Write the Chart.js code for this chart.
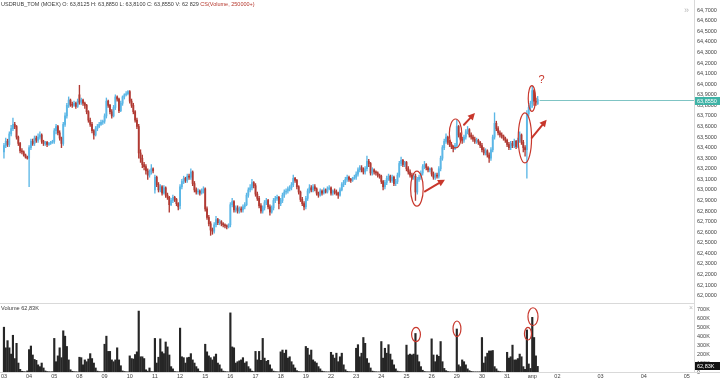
<!DOCTYPE html>
<html>
<head>
<meta charset="utf-8">
<script src="https://cdn.jsdelivr.net/npm/chart.js@4/dist/chart.umd.min.js"></script>
<style>
  html, body { margin: 0; padding: 0; background: #fff; }
  #wrap { position: relative; width: 720px; height: 380px; overflow: hidden; font-family: "Liberation Sans", Arial, sans-serif; }
  #priceCanvas { position: absolute; left: 0; top: 0; }
  #volCanvas { position: absolute; left: 0; top: 304px; }
  .line { position: absolute; background: #d9d9d9; }
  .txt { position: absolute; white-space: nowrap; color: #3a3a3a; }
  #header { left: 1px; top: 1px; font-size: 5.5px; }
  #header .cs { color: #b5372c; }
  #volLabel { left: 1px; top: 305px; font-size: 5.6px; }
  #more { left: 684px; top: 5px; font-size: 9px; color: #b8b8b8; }
  #close { left: 689px; top: 304px; font-size: 7px; color: #b8b8b8; }
</style>
</head>
<body>
<div id="wrap">
  <canvas id="priceCanvas" width="720" height="303"></canvas>
  <canvas id="volCanvas" width="720" height="76"></canvas>
  <div class="line" style="left:0;top:303px;width:694px;height:1px"></div>
  <div class="line" style="left:694px;top:0;width:1px;height:372px"></div>
  <div class="line" style="left:0;top:372px;width:720px;height:1px"></div>
  <div id="header" class="txt">USDRUB_TOM (MOEX) O: 63,8125 H: 63,8850 L: 63,8100 C: 63,8550 V: 62 829 <span class="cs">CS(Volume, 250000+)</span></div>
  <div id="volLabel" class="txt">Volume 62,83K</div>
  <div id="more" class="txt">»</div>
  <div id="close" class="txt">×</div>
</div>
<script>
// --- Axis labels (hourly bars, 14 per trading session) ---
const sessionDays = ["03","04","05","08","09","10","11","12","15","16","17","18","19","22","23","24","25","26","29","30","31","апр"];
const futureDays = ["02","03","04","05"];
const BARS_PER_SESSION = 14;
const BARS_PER_FUTURE_DAY = 24;

// --- OHLC, one row per session ---
const opens = [
  63.36,63.42,63.46,63.43,63.53,63.58,63.62,63.60,63.50,63.44,63.37,63.36,63.33,63.31,
  63.30,63.40,63.46,63.44,63.49,63.47,63.50,63.52,63.46,63.44,63.45,63.43,63.44,63.45,
  63.46,63.56,63.60,63.54,63.49,63.44,63.62,63.70,63.80,63.85,63.81,63.80,63.82,63.79,
  63.90,63.83,63.85,63.82,63.80,63.74,63.66,63.62,63.56,63.52,63.58,63.60,63.62,63.64,
  63.65,63.70,63.84,63.80,63.74,63.70,63.78,63.88,63.86,63.75,63.82,63.88,63.90,63.91,
  63.93,63.84,63.80,63.74,63.66,63.60,63.35,63.30,63.24,63.22,63.18,63.14,63.17,63.20,
  63.00,63.12,63.05,63.00,63.03,62.97,63.02,62.95,62.93,62.86,62.90,62.93,62.91,62.87,
  62.85,63.03,63.08,63.11,63.09,63.13,63.12,63.17,63.06,63.00,62.98,62.99,62.97,62.99,
  63.01,62.82,62.74,62.68,62.62,62.61,62.67,62.72,62.69,62.70,62.68,62.67,62.66,62.65,
  62.67,62.86,62.89,62.81,62.83,62.80,62.82,62.81,62.84,62.86,62.95,63.00,63.02,63.07,
  63.04,62.96,62.92,62.85,62.80,62.83,62.88,62.90,62.84,62.79,62.83,62.90,62.92,62.93,
  62.87,62.90,62.95,62.98,62.99,63.01,63.02,63.05,63.11,63.09,63.03,62.98,62.91,62.87,
  62.84,62.92,62.99,63.02,63.00,63.03,63.01,62.97,62.95,62.99,62.97,63.00,62.98,63.01,
  63.02,62.97,62.99,62.98,62.97,62.95,63.00,63.05,63.07,63.10,63.12,63.10,63.09,63.11,
  63.12,63.15,63.19,63.21,63.19,63.17,63.20,63.27,63.25,63.16,63.19,63.17,63.16,63.14,
  63.13,63.08,63.03,63.07,63.11,63.13,63.09,63.12,63.06,63.08,63.14,63.25,63.28,63.24,
  63.26,63.20,63.17,63.14,63.12,63.13,62.98,63.10,63.12,63.16,63.22,63.24,63.21,63.19,
  63.20,63.15,63.12,63.14,63.13,63.20,63.30,63.40,63.46,63.50,63.45,63.43,63.41,63.39,
  63.42,63.60,63.52,63.48,63.47,63.50,63.55,63.57,63.52,63.50,63.48,63.46,63.47,63.45,
  63.42,63.38,63.35,63.37,63.33,63.30,63.38,63.50,63.63,63.58,63.54,63.52,63.51,63.49,
  63.47,63.43,63.40,63.44,63.42,63.46,63.41,63.47,63.52,63.45,63.40,63.38,63.72,63.78,
  63.82,63.94,63.84,63.8125
];
const highs = [
  63.44,63.49,63.48,63.55,63.61,63.68,63.64,63.61,63.51,63.45,63.39,63.37,63.34,63.32,
  63.42,63.48,63.48,63.51,63.51,63.53,63.55,63.53,63.47,63.46,63.46,63.45,63.46,63.47,
  63.58,63.62,63.61,63.56,63.50,63.64,63.73,63.82,63.88,63.86,63.83,63.84,63.83,63.86,
  63.99,63.87,63.86,63.83,63.81,63.75,63.68,63.64,63.57,63.60,63.62,63.64,63.66,63.66,
  63.72,63.87,63.85,63.81,63.76,63.80,63.90,63.89,63.87,63.84,63.89,63.91,63.93,63.94,
  63.94,63.86,63.82,63.75,63.68,63.62,63.38,63.33,63.26,63.24,63.20,63.19,63.24,63.21,
  63.14,63.13,63.07,63.05,63.04,63.04,63.03,62.97,62.94,62.92,62.95,62.94,62.92,62.88,
  63.05,63.10,63.13,63.12,63.15,63.15,63.20,63.18,63.08,63.02,63.01,63.00,63.01,63.03,
  63.02,62.84,62.76,62.70,62.64,62.69,62.75,62.73,62.72,62.71,62.69,62.68,62.67,62.68,
  62.88,62.92,62.90,62.85,62.85,62.84,62.84,62.86,62.88,62.97,63.02,63.05,63.10,63.08,
  63.06,62.98,62.94,62.87,62.85,62.90,62.92,62.91,62.86,62.85,62.92,62.94,62.95,62.94,
  62.92,62.97,63.00,63.01,63.03,63.04,63.07,63.14,63.12,63.10,63.04,62.99,62.93,62.89,
  62.94,63.01,63.05,63.04,63.05,63.05,63.02,62.98,63.01,63.00,63.02,63.01,63.03,63.04,
  63.03,63.00,63.01,63.00,62.98,63.02,63.07,63.09,63.12,63.14,63.13,63.11,63.12,63.14,
  63.17,63.21,63.23,63.23,63.21,63.22,63.32,63.29,63.26,63.21,63.20,63.18,63.17,63.15,
  63.14,63.09,63.09,63.13,63.15,63.14,63.14,63.13,63.10,63.16,63.27,63.31,63.29,63.27,
  63.27,63.22,63.19,63.16,63.15,63.15,63.12,63.14,63.18,63.24,63.27,63.25,63.22,63.21,
  63.21,63.17,63.16,63.16,63.22,63.32,63.42,63.48,63.53,63.51,63.47,63.45,63.42,63.44,
  63.66,63.61,63.54,63.50,63.52,63.57,63.60,63.58,63.54,63.52,63.50,63.49,63.48,63.46,
  63.44,63.40,63.39,63.38,63.35,63.40,63.52,63.73,63.65,63.60,63.56,63.54,63.52,63.50,
  63.48,63.45,63.46,63.46,63.48,63.47,63.49,63.55,63.53,63.47,63.42,63.75,63.80,63.84,
  63.98,63.95,63.87,63.885
];
const lows = [
  63.30,63.40,63.41,63.41,63.51,63.56,63.58,63.48,63.42,63.35,63.34,63.32,63.30,63.29,
  63.03,63.38,63.42,63.42,63.45,63.45,63.48,63.44,63.42,63.42,63.41,63.42,63.43,63.44,
  63.44,63.53,63.52,63.47,63.40,63.42,63.60,63.68,63.78,63.79,63.78,63.79,63.77,63.78,
  63.81,63.81,63.80,63.77,63.72,63.64,63.60,63.54,63.48,63.51,63.56,63.59,63.61,63.62,
  63.63,63.68,63.78,63.72,63.68,63.69,63.76,63.84,63.73,63.74,63.80,63.86,63.89,63.90,
  63.82,63.78,63.72,63.64,63.58,63.30,63.26,63.21,63.19,63.15,63.10,63.12,63.15,63.16,
  62.97,63.03,62.98,62.98,62.95,62.96,62.93,62.91,62.79,62.85,62.88,62.89,62.85,62.81,
  62.82,63.01,63.06,63.07,63.07,63.10,63.10,63.04,62.98,62.96,62.96,62.95,62.96,62.97,
  62.80,62.72,62.66,62.57,62.58,62.59,62.65,62.67,62.67,62.66,62.65,62.64,62.63,62.64,
  62.65,62.84,62.79,62.79,62.78,62.78,62.79,62.79,62.82,62.85,62.93,62.98,63.00,63.02,
  62.94,62.90,62.83,62.78,62.78,62.81,62.86,62.82,62.76,62.78,62.81,62.88,62.90,62.82,
  62.85,62.88,62.93,62.96,62.97,62.99,63.00,63.03,63.07,63.01,62.96,62.89,62.85,62.81,
  62.82,62.90,62.97,62.98,62.98,62.99,62.95,62.93,62.94,62.95,62.96,62.97,62.97,63.00,
  62.95,62.95,62.96,62.95,62.92,62.94,62.99,63.03,63.05,63.08,63.08,63.07,63.08,63.10,
  63.10,63.13,63.17,63.17,63.15,63.15,63.18,63.22,63.14,63.14,63.15,63.14,63.12,63.11,
  63.06,63.00,63.01,63.05,63.09,63.07,63.07,63.04,63.04,63.06,63.12,63.23,63.22,63.22,
  63.18,63.15,63.12,63.10,63.10,62.90,62.96,63.08,63.10,63.14,63.20,63.19,63.17,63.17,
  63.13,63.10,63.10,63.11,63.11,63.18,63.28,63.38,63.44,63.43,63.41,63.39,63.36,63.38,
  63.40,63.50,63.46,63.44,63.45,63.48,63.53,63.50,63.48,63.46,63.44,63.44,63.43,63.40,
  63.36,63.33,63.33,63.31,63.26,63.28,63.36,63.48,63.56,63.52,63.50,63.49,63.47,63.45,
  63.41,63.38,63.38,63.40,63.40,63.39,63.40,63.45,63.43,63.36,63.32,63.11,63.70,63.76,
  63.78,63.80,63.80,63.81
];
const closes = [
  63.42,63.46,63.43,63.53,63.58,63.62,63.60,63.50,63.44,63.37,63.36,63.33,63.31,63.30,
  63.40,63.46,63.44,63.49,63.47,63.50,63.52,63.46,63.44,63.45,63.43,63.44,63.45,63.46,
  63.56,63.60,63.54,63.49,63.44,63.62,63.70,63.80,63.85,63.81,63.80,63.82,63.79,63.84,
  63.83,63.85,63.82,63.80,63.74,63.66,63.62,63.56,63.52,63.58,63.60,63.62,63.64,63.65,
  63.70,63.84,63.80,63.74,63.70,63.78,63.88,63.86,63.75,63.82,63.88,63.90,63.91,63.93,
  63.84,63.80,63.74,63.66,63.60,63.35,63.30,63.24,63.22,63.18,63.14,63.17,63.20,63.18,
  63.12,63.05,63.00,63.03,62.97,63.02,62.95,62.93,62.86,62.90,62.93,62.91,62.87,62.84,
  63.03,63.08,63.11,63.09,63.13,63.12,63.17,63.06,63.00,62.98,62.99,62.97,62.99,63.01,
  62.82,62.74,62.68,62.62,62.61,62.67,62.72,62.69,62.70,62.68,62.67,62.66,62.65,62.67,
  62.86,62.89,62.81,62.83,62.80,62.82,62.81,62.84,62.86,62.95,63.00,63.02,63.07,63.04,
  62.96,62.92,62.85,62.80,62.83,62.88,62.90,62.84,62.79,62.83,62.90,62.92,62.93,62.87,
  62.90,62.95,62.98,62.99,63.01,63.02,63.05,63.11,63.09,63.03,62.98,62.91,62.87,62.84,
  62.92,62.99,63.02,63.00,63.03,63.01,62.97,62.95,62.99,62.97,63.00,62.98,63.01,63.02,
  62.97,62.99,62.98,62.97,62.95,63.00,63.05,63.07,63.10,63.12,63.10,63.09,63.11,63.12,
  63.15,63.19,63.21,63.19,63.17,63.20,63.27,63.25,63.16,63.19,63.17,63.16,63.14,63.13,
  63.08,63.03,63.07,63.11,63.13,63.09,63.12,63.06,63.08,63.14,63.25,63.28,63.24,63.26,
  63.20,63.17,63.14,63.12,63.13,62.98,63.10,63.12,63.16,63.22,63.24,63.21,63.19,63.20,
  63.15,63.12,63.14,63.13,63.20,63.30,63.40,63.46,63.50,63.45,63.43,63.41,63.39,63.42,
  63.60,63.52,63.48,63.47,63.50,63.55,63.57,63.52,63.50,63.48,63.46,63.47,63.45,63.42,
  63.38,63.35,63.37,63.33,63.30,63.38,63.50,63.63,63.58,63.54,63.52,63.51,63.49,63.47,
  63.43,63.40,63.44,63.42,63.46,63.41,63.47,63.52,63.45,63.40,63.38,63.72,63.78,63.82,
  63.94,63.84,63.83,63.855
];
// volume, thousands
const volumes = [
  500,270,350,270,200,410,150,320,100,30,8,5,3,12,
  250,290,190,140,130,80,60,100,45,12,5,3,2,4,
  375,115,180,270,160,460,400,285,135,25,8,4,3,2,
  165,160,80,135,115,145,205,150,100,45,10,5,3,4,
  310,400,230,230,135,115,135,270,135,70,12,6,3,2,
  180,150,145,195,225,680,170,170,150,25,10,45,5,3,
  375,100,165,370,225,205,335,280,190,60,35,6,3,2,
  490,170,160,100,160,165,205,135,100,60,35,8,4,2,
  310,225,180,160,135,170,200,100,80,35,10,5,3,2,
  660,280,270,100,115,125,135,160,100,115,60,35,10,5,
  230,135,230,130,375,155,120,130,80,35,10,5,3,2,
  225,245,210,245,155,170,115,80,45,15,6,3,2,2,
  285,265,190,245,135,115,100,60,35,10,5,3,2,2,
  220,190,155,210,115,170,210,80,25,8,4,3,2,2,
  265,305,170,210,385,320,150,100,45,10,5,3,2,2,
  340,155,265,210,305,200,135,80,35,10,5,3,2,2,
  300,190,200,190,200,430,190,115,60,20,6,3,2,2,
  370,190,115,190,175,340,115,40,15,6,3,2,2,2,
  480,80,60,135,115,80,35,15,6,3,2,2,2,2,
  385,100,170,210,235,235,240,60,35,10,5,3,2,2,
  220,155,170,300,135,135,150,200,170,60,30,470,90,40,
  610,385,180,62.829
];

// --- Hand-drawn marks on the chart (in bar index / price / volume units) ---
const priceCircles = [
  { i: 229.8, v: 63.012, ri: 3.5, rv: 0.166 },
  { i: 251.3, v: 63.534, ri: 3.45, rv: 0.137 },
  { i: 289.9, v: 63.492, ri: 3.7, rv: 0.237 },
  { i: 293.8, v: 63.865, ri: 2.05, rv: 0.121 }
];
const priceArrows = [
  { i0: 234.3, v0: 62.986, i1: 245.4, v1: 63.097 },
  { i0: 256.0, v0: 63.617, i1: 262.1, v1: 63.728 },
  { i0: 293.7, v0: 63.492, i1: 302.0, v1: 63.665 }
];
const questionMark = { i: 299.1, v: 64.038 };
const volumeCircles = [
  { i: 229.3, v: 418, ri: 2.45, rv: 80 },
  { i: 252.1, v: 482, ri: 2.2, rv: 87 },
  { i: 291.6, v: 427, ri: 1.95, rv: 70 },
  { i: 294.4, v: 617, ri: 2.8, rv: 100 }
];

const UP = "#5cb7e6";
const DOWN = "#b13a33";
const MARK = "#c8372c";
const AXIS_TEXT = "#444";
const X_MIN = -2.2, X_MAX = 384;
const AXIS_W = 26;

const tickPos = [];
const tickText = [];
sessionDays.forEach((d, k) => { tickPos.push(k * BARS_PER_SESSION); tickText.push(d); });
futureDays.forEach((d, k) => {
  tickPos.push(sessionDays.length * BARS_PER_SESSION + k * BARS_PER_FUTURE_DAY);
  tickText.push(d);
});

const idx = closes.map((_, i) => i);
const candleColor = idx.map(i => closes[i] >= opens[i] ? UP : DOWN);
const lastIdx = closes.length - 1;

function fmtPrice(v) { return v.toFixed(4).replace(".", ","); }

// no label padding: keep the value scale running edge to edge
function fitRightAxis(s) {
  s.width = AXIS_W;
  s.paddingTop = 0;
  s.paddingBottom = 0;
}

function ellipse(ctx, xs, ys, m) {
  const cx = xs.getPixelForValue(m.i), cy = ys.getPixelForValue(m.v);
  const rx = Math.abs(xs.getPixelForValue(m.i + m.ri) - cx);
  const ry = Math.abs(ys.getPixelForValue(m.v + m.rv) - cy);
  ctx.beginPath();
  ctx.ellipse(cx, cy, rx, ry, 0, 0, Math.PI * 2);
  ctx.stroke();
}

function arrow(ctx, x0, y0, x1, y1) {
  const a = Math.atan2(y1 - y0, x1 - x0), hl = 7, hw = 3.6;
  const bx = x1 - hl * Math.cos(a), by = y1 - hl * Math.sin(a);
  ctx.beginPath(); ctx.moveTo(x0, y0); ctx.lineTo(bx, by); ctx.stroke();
  ctx.beginPath();
  ctx.moveTo(x1, y1);
  ctx.lineTo(bx + hw * Math.sin(a), by - hw * Math.cos(a));
  ctx.lineTo(bx - hw * Math.sin(a), by + hw * Math.cos(a));
  ctx.closePath(); ctx.fill();
}

function axisBox(ctx, area, yPix, text, bg, fg) {
  ctx.fillStyle = bg;
  ctx.fillRect(area.right, Math.round(yPix) - 4, AXIS_W, 8);
  ctx.fillStyle = fg;
  ctx.font = "5.5px 'Liberation Sans', Arial, sans-serif";
  ctx.textBaseline = "middle";
  ctx.textAlign = "left";
  ctx.fillText(text, area.right + 3, Math.round(yPix) + 0.5);
}

// --- Price pane overlay: last price line, label, marks ---
const priceOverlay = {
  id: "priceOverlay",
  afterDraw(chart) {
    const { ctx, chartArea, scales: { x, y } } = chart;
    const py = Math.round(y.getPixelForValue(closes[lastIdx])) + 0.5;
    ctx.save();
    ctx.strokeStyle = "#7fc4c4";
    ctx.lineWidth = 1;
    ctx.beginPath();
    ctx.moveTo(x.getPixelForValue(lastIdx) + 2, py);
    ctx.lineTo(chartArea.right, py);
    ctx.stroke();
    axisBox(ctx, chartArea, py, fmtPrice(closes[lastIdx]), "#3fb3a6", "#fff");

    ctx.strokeStyle = MARK;
    ctx.fillStyle = MARK;
    ctx.lineWidth = 1.2;
    priceCircles.forEach(m => ellipse(ctx, x, y, m));
    ctx.lineWidth = 2;
    ctx.lineCap = "round";
    priceArrows.forEach(a => arrow(ctx,
      x.getPixelForValue(a.i0), y.getPixelForValue(a.v0),
      x.getPixelForValue(a.i1), y.getPixelForValue(a.v1)));
    ctx.font = "11px 'Liberation Sans', Arial, sans-serif";
    ctx.textAlign = "center";
    ctx.textBaseline = "middle";
    ctx.fillText("?", x.getPixelForValue(questionMark.i), y.getPixelForValue(questionMark.v));
    ctx.restore();
  }
};

// --- Volume pane overlay ---
const volumeOverlay = {
  id: "volumeOverlay",
  afterDraw(chart) {
    const { ctx, chartArea, scales: { x, y } } = chart;
    ctx.save();
    ctx.strokeStyle = MARK;
    ctx.lineWidth = 1.2;
    volumeCircles.forEach(m => ellipse(ctx, x, y, m));
    const vy = y.getPixelForValue(volumes[lastIdx]);
    axisBox(ctx, chartArea, vy, (volumes[lastIdx]).toFixed(2).replace(".", ",") + "K", "#111", "#fff");
    ctx.restore();
  }
};

const baseOpts = {
  responsive: false,
  animation: false,
  events: [],
  layout: { padding: 0 },
  plugins: { legend: { display: false }, tooltip: { enabled: false } }
};

const axisFont = { size: 5.5, family: "'Liberation Sans', Arial, sans-serif" };

new Chart(document.getElementById("priceCanvas"), {
  type: "bar",
  data: {
    datasets: [
      {
        data: idx.map(i => ({ x: i, y: [lows[i], highs[i]] })),
        backgroundColor: candleColor,
        barThickness: 0.7,
        grouped: false
      },
      {
        data: idx.map(i => ({ x: i, y: [opens[i], closes[i]] })),
        backgroundColor: candleColor,
        barThickness: 1.2,
        minBarLength: 1,
        grouped: false
      }
    ]
  },
  options: {
    ...baseOpts,
    scales: {
      x: { type: "linear", min: X_MIN, max: X_MAX, offset: false, display: false },
      y: {
        position: "right",
        min: 61.93,
        max: 64.797,
        afterFit: fitRightAxis,
        grid: { display: false, drawTicks: false },
        border: { display: false },
        ticks: {
          stepSize: 0.1,
          includeBounds: false,
          autoSkip: false,
          maxTicksLimit: 100,
          padding: 3,
          color: AXIS_TEXT,
          font: axisFont,
          callback: v => fmtPrice(v)
        }
      }
    }
  },
  plugins: [priceOverlay]
});

new Chart(document.getElementById("volCanvas"), {
  type: "bar",
  data: {
    datasets: [{
      data: idx.map(i => ({ x: i, y: volumes[i] })),
      backgroundColor: "#262626",
      barThickness: 1.5,
      grouped: false
    }]
  },
  options: {
    ...baseOpts,
    scales: {
      x: {
        type: "linear",
        min: X_MIN,
        max: X_MAX,
        offset: false,
        afterBuildTicks(s) { s.ticks = tickPos.map(v => ({ value: v })); },
        afterFit(s) { s.height = 8; s.paddingLeft = 0; s.paddingRight = 0; },
        grid: { display: false, drawTicks: false },
        border: { display: false },
        ticks: {
          autoSkip: false,
          maxRotation: 0,
          padding: 1,
          color: AXIS_TEXT,
          font: axisFont,
          callback: (v, i) => tickText[i]
        }
      },
      y: {
        position: "right",
        min: 0,
        max: 759,
        afterFit: fitRightAxis,
        grid: { display: false, drawTicks: false },
        border: { display: false },
        ticks: {
          stepSize: 100,
          includeBounds: false,
          autoSkip: false,
          padding: 3,
          color: AXIS_TEXT,
          font: axisFont,
          callback: v => v === 0 ? "0" : v + "K"
        }
      }
    }
  },
  plugins: [volumeOverlay]
});
</script>
</body>
</html>
